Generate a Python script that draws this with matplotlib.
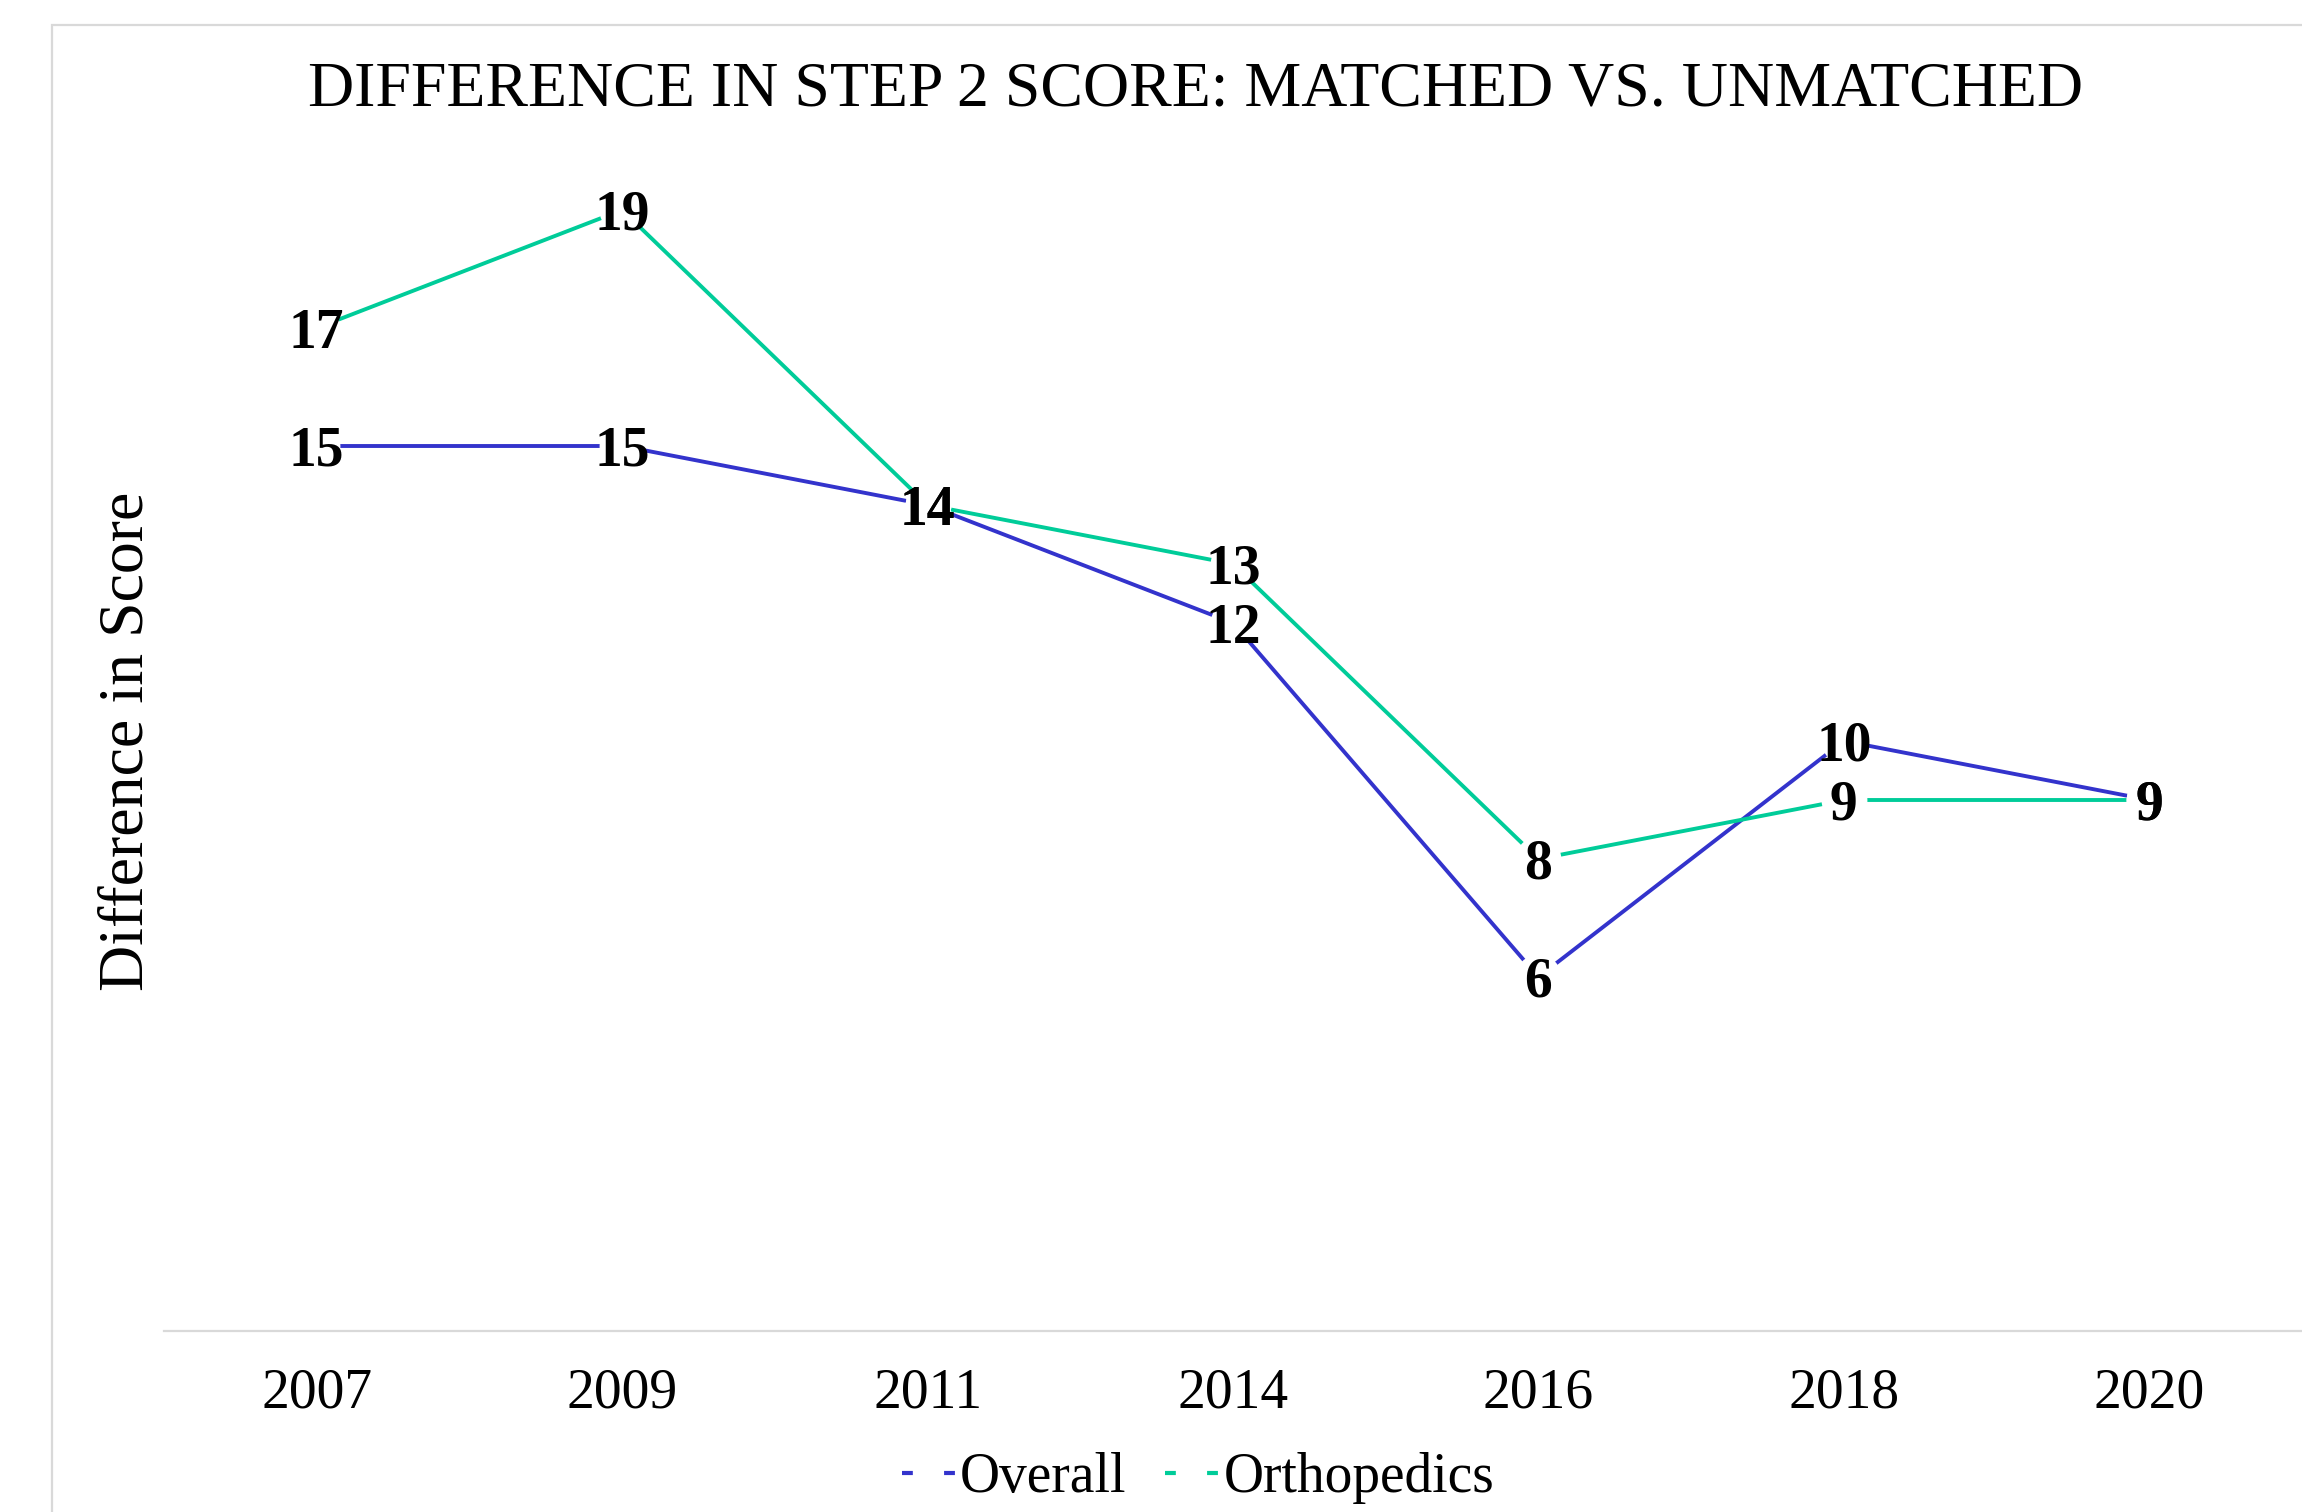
import matplotlib
matplotlib.use("Agg")
import matplotlib.pyplot as plt
from matplotlib.lines import Line2D
from matplotlib.patches import Rectangle

# ── Data ──────────────────────────────────────────────────────────────────────
years = ["2007", "2009", "2011", "2014", "2016", "2018", "2020"]
overall = [15, 15, 14, 12, 6, 10, 9]
orthopedics = [17, 19, 14, 13, 8, 9, 9]

BLUE = "#3333CC"
GREEN = "#00CC99"
GRID = "#D9D9D9"
W, H = 2302, 1512

plt.rcParams["font.family"] = ["Liberation Serif", "DejaVu Serif"]

fig = plt.figure(figsize=(W / 100, H / 100), dpi=100)
fig.patches.append(Rectangle((52 / W, -0.1), 1.2, 1 - 25 / H + 0.1, transform=fig.transFigure,
                             fill=False, edgecolor=GRID, linewidth=1.6))

ax = fig.add_axes([164 / W, 1 - 1331 / H, 1 - 164 / W, (1331 - 151) / H])
x = list(range(len(years)))
for vals, col in ((overall, BLUE), (orthopedics, GREEN)):
    ax.plot(x, vals, color=col, lw=2.8, solid_capstyle="butt", zorder=2)
# white knock-out circles so the lines stop short of the labels
for vals in (overall, orthopedics):
    ax.plot(x, vals, ls="none", marker="o", ms=33, mfc="white", mec="none", zorder=2.5)
    for xi, v in zip(x, vals):
        ax.annotate(f"{v}", (xi, v), xytext=(0, -4), textcoords="offset points",
                    ha="center", va="center", fontsize=40, fontweight="bold",
                    color="black", zorder=3)

ax.set_xlim(-0.5, 6.5)
ax.set_ylim(0, 20)
ax.set_xticks(x)
ax.set_xticklabels(years, fontsize=40)
ax.tick_params(axis="x", length=0, pad=26)
ax.set_yticks([])
for s in ("top", "right", "left"):
    ax.spines[s].set_visible(False)
ax.spines["bottom"].set_color(GRID)
ax.spines["bottom"].set_linewidth(1.6)

fig.text(1195 / W, 1 - 91 / H, "DIFFERENCE IN STEP 2 SCORE: MATCHED VS. UNMATCHED",
         ha="center", va="center", fontsize=46)
fig.text(128 / W, 1 - 741 / H, "Difference in Score", rotation=90,
         ha="center", va="center", fontsize=46)

handles = [Line2D([], [], color=BLUE, lw=3, dashes=(2.6, 7.5)),
           Line2D([], [], color=GREEN, lw=3, dashes=(2.6, 7.5))]
fig.legend(handles, ["Overall", "Orthopedics"], loc="center", bbox_to_anchor=(1198 / W, 1 - 1478 / H),
           ncol=2, frameon=False, fontsize=40, handlelength=1.0, handletextpad=0.05,
           columnspacing=0.7)

fig.savefig("out.png", dpi=100)
